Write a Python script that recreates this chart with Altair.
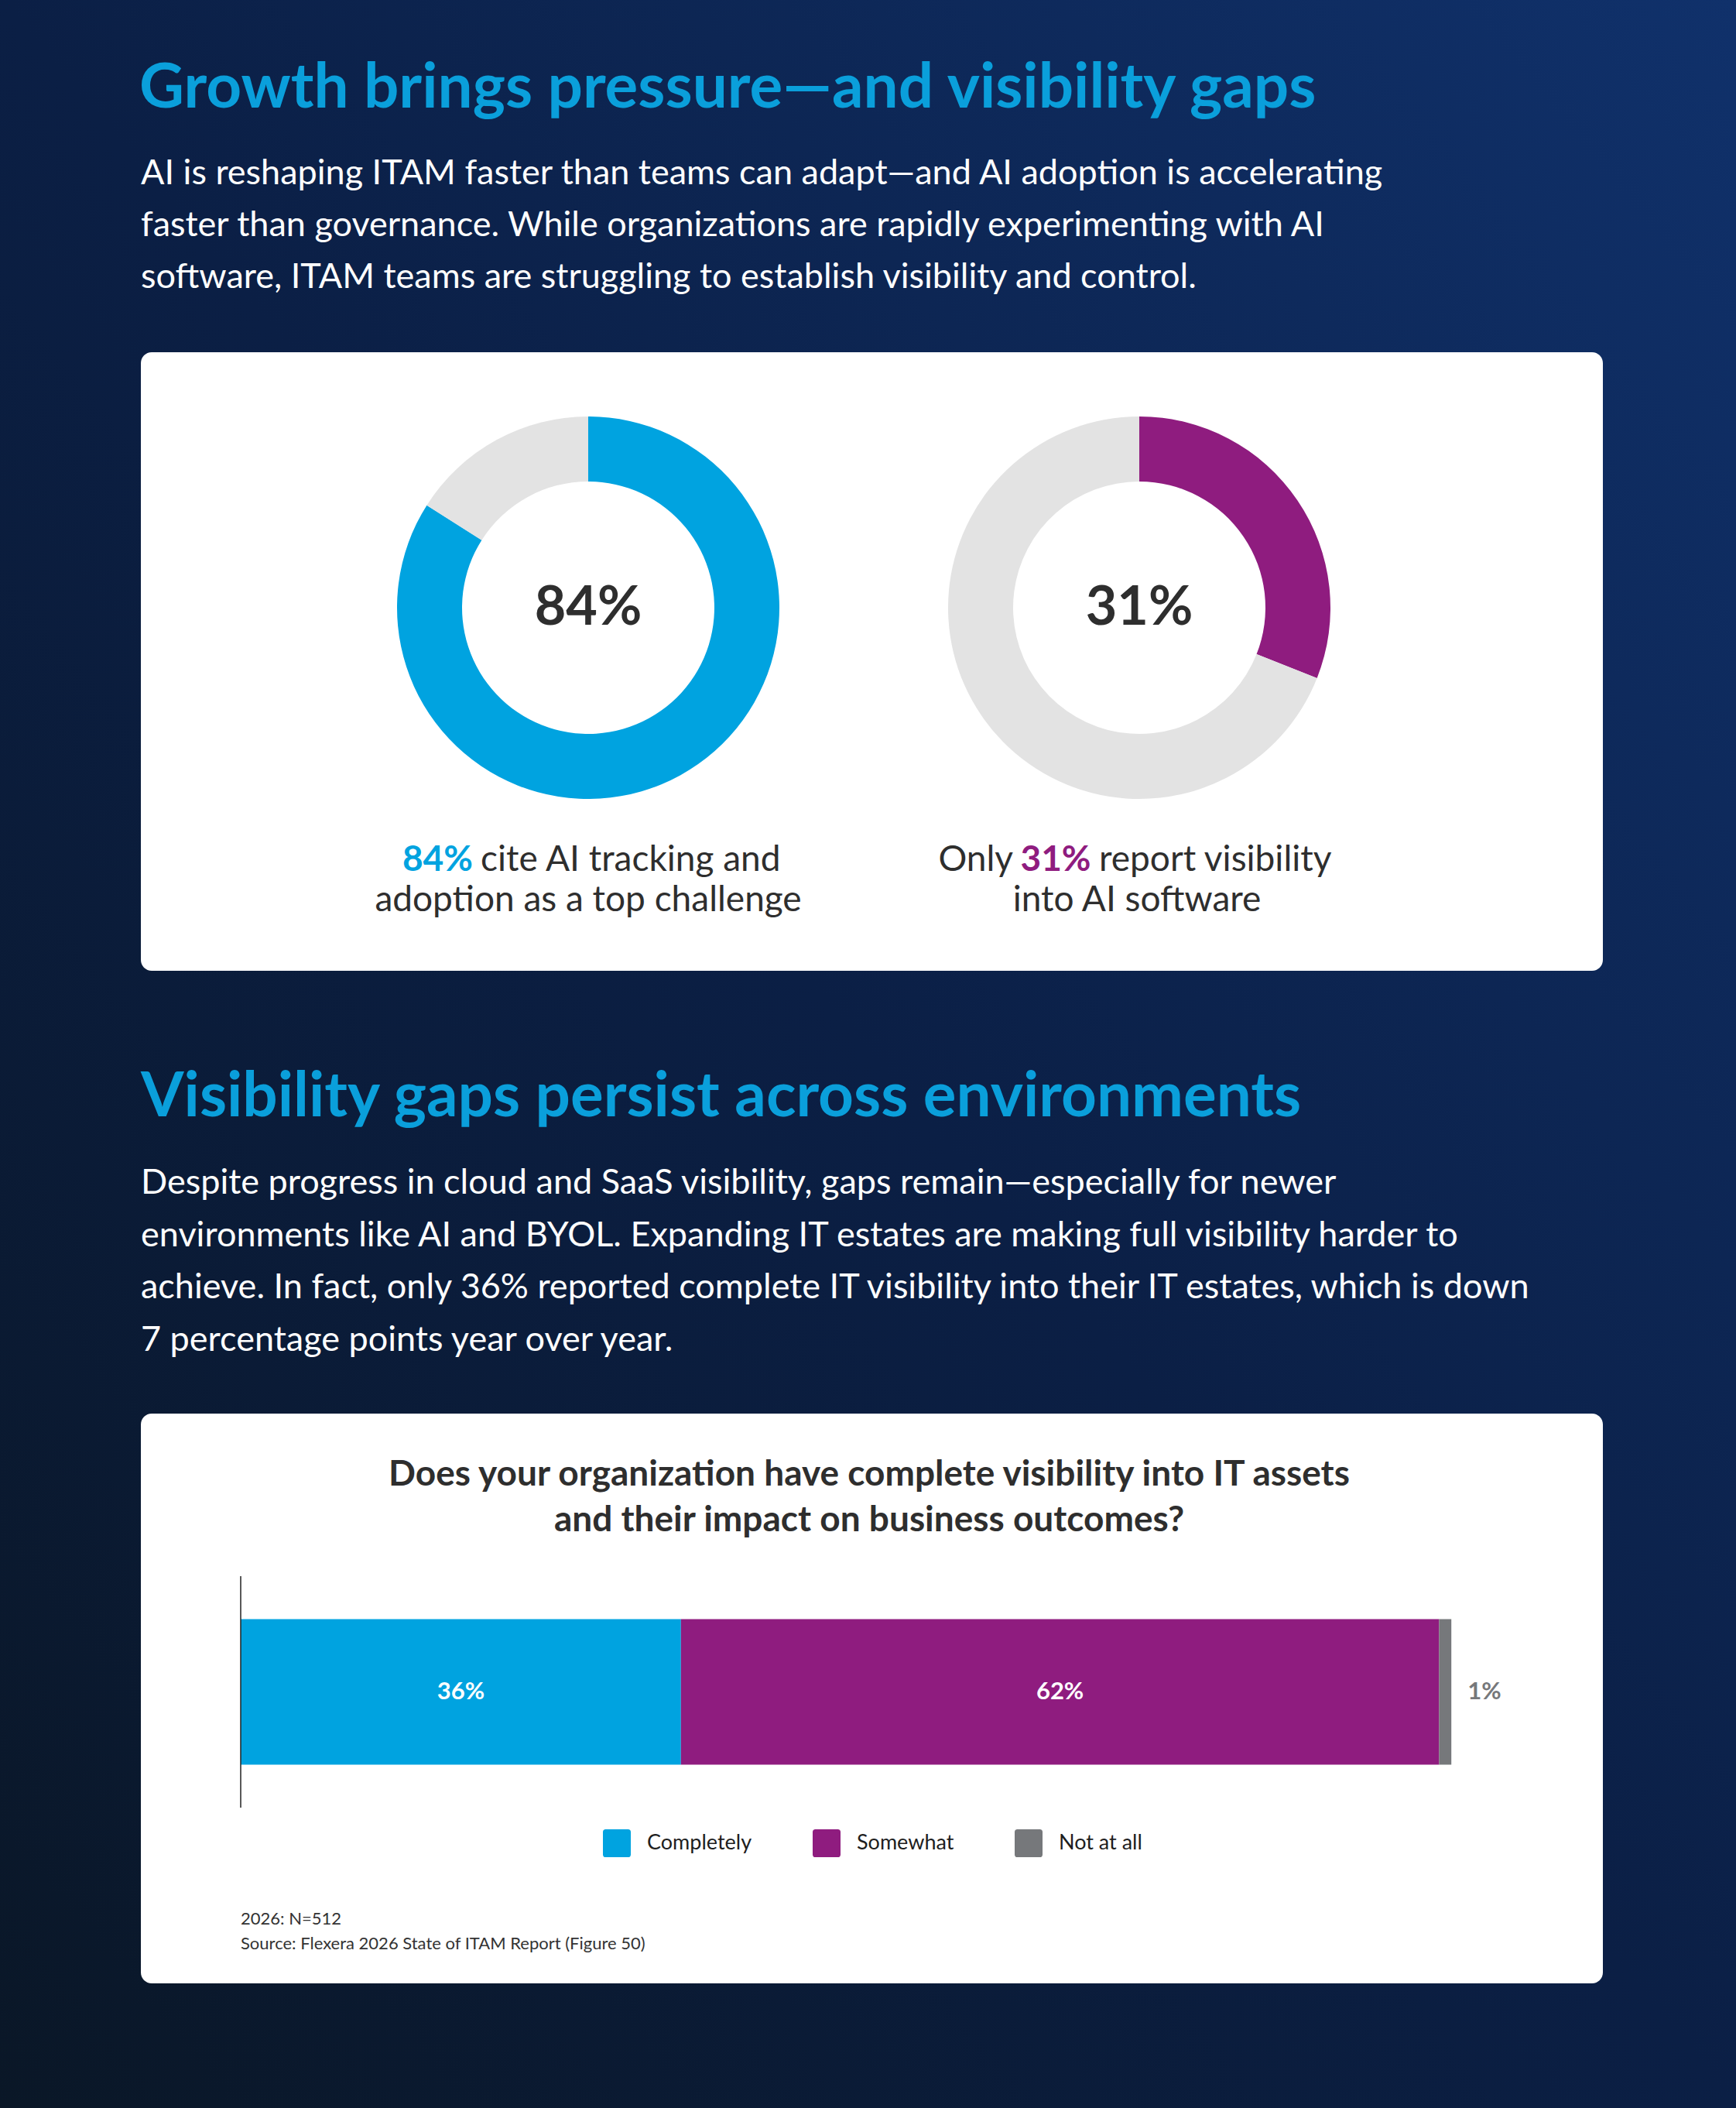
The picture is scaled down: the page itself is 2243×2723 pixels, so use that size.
import altair as alt
import numpy as np
import pandas as pd

W, H = 2243, 2723
FONT = "Lato"
DARK = "#2E2E2E"
BLUE = "#00A3E0"
PURPLE = "#8F1C7F"
GRAY = "#76787B"
TRACK = "#E3E3E3"
HEAD_BLUE = "#0A9FDB"

# ---- text content ----
title_top = "Growth brings pressure\u2014and visibility gaps"
intro_top = [
    "AI is reshaping ITAM faster than teams can adapt\u2014and AI adoption is accelerating",
    "faster than governance. While organizations are rapidly experimenting with AI",
    "software, ITAM teams are struggling to establish visibility and control.",
]
title_bottom = "Visibility gaps persist across environments"
intro_bottom = [
    "Despite progress in cloud and SaaS visibility, gaps remain\u2014especially for newer",
    "environments like AI and BYOL. Expanding IT estates are making full visibility harder to",
    "achieve. In fact, only 36% reported complete IT visibility into their IT estates, which is down",
    "7 percentage points year over year.",
]

# ---- donut data ----
donut_values = [84, 31]
donut_hit = ["cite AI tracking as top challenge", "report visibility into AI software"]
donut_rest = ["do not cite it", "no visibility"]
donut_colors = [BLUE, PURPLE]
caption_a = ["cite AI tracking and", "adoption as a top challenge"]
caption_b = ["Only", "report visibility", "into AI software"]

# ---- stacked bar data ----
question = [
    "Does your organization have complete visibility into IT assets",
    "and their impact on business outcomes?",
]
year = ["2026"]
categories = ["Completely", "Somewhat", "Not at all"]
shares = [36, 62, 1]
cat_colors = [BLUE, PURPLE, GRAY]
footnotes = ["2026: N=512", "Source: Flexera 2026 State of ITAM Report (Figure 50)"]

one = pd.DataFrame({"k": [0]})


def box(x, x2, y, y2, **mark):
    return alt.Chart(one).mark_rect(**mark).encode(
        x=alt.value(x), x2=alt.value(x2), y=alt.value(y), y2=alt.value(y2)
    )


def label(text, x, y, size, color="white", weight="normal", align="left", line_height=None):
    kw = dict(font=FONT, fontSize=size, color=color, fontWeight=weight,
              align=align, baseline="alphabetic")
    if isinstance(text, list):
        text = "\n".join(text)
        kw.update(lineBreak="\n", lineHeight=line_height)
    return alt.Chart(one).mark_text(**kw).encode(
        x=alt.value(x), y=alt.value(y), text=alt.value(text)
    )


# background and cards
background = box(0, W, 0, H, color=alt.Gradient(
    gradient="linear", x1=0, y1=1, x2=1, y2=0,
    stops=[alt.GradientStop(color="#0A1727", offset=0),
           alt.GradientStop(color="#0B1F45", offset=0.5),
           alt.GradientStop(color="#10316B", offset=1)]))
card_top = box(182, 2071, 455, 1254, color="white", cornerRadius=14)
card_bottom = box(182, 2071, 1826, 2562, color="white", cornerRadius=14)


def donut(i, cx, cy):
    v = donut_values[i]
    df = pd.DataFrame({"part": [donut_hit[i], donut_rest[i]],
                       "value": [v, 100 - v], "idx": [0, 1]})
    return alt.Chart(df).mark_arc(radius=247, radius2=163).encode(
        theta=alt.Theta("value:Q", stack=True),
        color=alt.Color("part:N", legend=None,
                        scale=alt.Scale(domain=[donut_hit[i], donut_rest[i]],
                                        range=[donut_colors[i], TRACK])),
        order=alt.Order("idx:Q"),
        x=alt.value(cx), y=alt.value(cy),
    )


# stacked bar
ends = np.cumsum(shares)
bar_df = pd.DataFrame({
    "year": year * len(categories),
    "category": categories,
    "share": shares,
    "start": ends - np.array(shares),
    "end": ends,
    "idx": range(len(categories)),
})
bar_df["mid"] = (bar_df["start"] + bar_df["end"]) / 2
bar_df["label"] = bar_df["share"].astype(str) + "%"

xscale = alt.Scale(domain=[0, 100], range=[311, 1891])
yscale = alt.Scale(domain=year, range=[2036, 2335], paddingInner=0, paddingOuter=0.295)

bars = alt.Chart(bar_df).mark_bar().encode(
    x=alt.X("start:Q", scale=xscale, axis=None),
    x2="end:Q",
    y=alt.Y("year:N", scale=yscale, axis=None),
    color=alt.Color("category:N",
                    scale=alt.Scale(domain=categories, range=cat_colors),
                    legend=alt.Legend(
                        orient="none", legendX=779, legendY=2363, direction="horizontal",
                        title=None, padding=0, columnPadding=78, labelOffset=21,
                        labelFont=FONT, labelFontSize=27, labelColor="#1E1E1E",
                        symbolSize=1296, symbolOpacity=1, symbolStrokeWidth=0,
                        symbolType="M-0.8,-1L0.8,-1Q1,-1 1,-0.8L1,0.8Q1,1 0.8,1L-0.8,1Q-1,1 -1,0.8L-1,-0.8Q-1,-1 -0.8,-1Z")),
    order=alt.Order("idx:Q"),
)
# baseline rule at zero on the value axis
zero_rule = alt.Chart(one).mark_rule(color="#222222", strokeWidth=1.5).encode(
    x=alt.X("z:Q", scale=xscale, axis=None), y=alt.value(2036), y2=alt.value(2335)
).transform_calculate(z="0")
inside_labels = alt.Chart(bar_df).transform_filter("datum.share >= 5").mark_text(
    font=FONT, fontSize=31, fontWeight="bold", color="white", baseline="middle"
).encode(x=alt.X("mid:Q", scale=xscale), y=alt.Y("year:N", scale=yscale), text="label:N")
outside_labels = alt.Chart(bar_df).transform_filter("datum.share < 5").mark_text(
    font=FONT, fontSize=31, fontWeight="bold", color=GRAY, baseline="middle", align="left", dx=21
).encode(x=alt.X("end:Q", scale=xscale), y=alt.Y("year:N", scale=yscale), text="label:N")

layers = [
    background, card_top, card_bottom,
    label(title_top, 180, 139, 80, color=HEAD_BLUE, weight="bold"),
    label(intro_top, 182, 238, 45, line_height=67),
    donut(0, 760, 785), donut(1, 1472, 785),
    label(f"{donut_values[0]}%", 760, 807, 70, color=DARK, weight="bold", align="center"),
    label(f"{donut_values[1]}%", 1472, 807, 70, color=DARK, weight="bold", align="center"),
    label(f"{donut_values[0]}%", 611, 1125, 46, color=BLUE, weight="bold", align="right"),
    label(caption_a[0], 621, 1125, 46, color=DARK),
    label(caption_a[1], 760, 1177, 46, color=DARK, align="center"),
    label(caption_b[0], 1309, 1125, 46, color=DARK, align="right"),
    label(f"{donut_values[1]}%", 1364, 1125, 46, color=PURPLE, weight="bold", align="center"),
    label(caption_b[1], 1420, 1125, 46, color=DARK),
    label(caption_b[2], 1469, 1177, 46, color=DARK, align="center"),
    label(title_bottom, 182, 1442, 80, color=HEAD_BLUE, weight="bold"),
    label(intro_bottom, 182, 1542, 45, line_height=67.5),
    label(question, 1123, 1919, 46, color=DARK, weight="bold", align="center", line_height=59),
    bars, zero_rule, inside_labels, outside_labels,
    label(footnotes, 311, 2486, 22, color="#333333", line_height=32),
]

chart = alt.layer(*layers).resolve_scale(color="independent").properties(
    width=W, height=H, padding=0, autosize=alt.AutoSizeParams(type="none"),
    background="#0B1D44",
).configure_view(stroke=None)

chart.save("out.html", embed_options={"renderer": "svg", "actions": False})
